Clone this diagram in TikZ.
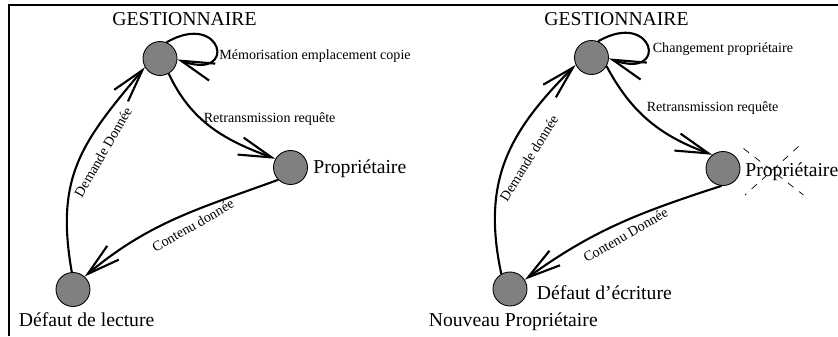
\documentclass[tikz,border=0pt]{standalone}
\usepackage{fontspec}
\setmainfont{Liberation Serif}
\usetikzlibrary{arrows.meta}
\tikzset{
	etat/.style={circle, draw, fill=black!50, line width=0.5pt, minimum size=0.68cm, inner sep=0pt},
	fleche/.style={-{Straight Barb[length=6.6mm,width=3.6mm]}, line width=1.2pt},
	gros/.style={inner sep=0pt, font=\fontsize{11.2}{13}\selectfont},
	petit/.style={inner sep=0pt, font=\fontsize{8}{9.6}\selectfont},
	barre/.style={dashed, dash pattern=on 4pt off 4pt, line width=0.4pt}
}
\begin{document}
\begin{tikzpicture}
			\useasboundingbox (0,0) rectangle (16.76,6.72);
			\draw[line width=1.1pt] (0.18,0) -- (0.18,6.62) -- (16.76,6.62);
			\node[etat] (G1) at (3.20,5.55) {};
			\node[etat] (P1) at (5.81,3.37) {};
			\node[etat] (D1) at (1.46,0.93) {};
			\node[gros, anchor=base] (ges1) at (3.69,6.21) {GESTIONNAIRE};
			\node[gros, anchor=base west] (prop1) at (6.26,3.25) {Propriétaire};
			\node[gros, anchor=base west] (dl) at (0.37,0.19) {Défaut de lecture};
			\node[petit, anchor=base west] (mem1) at (4.38,5.52) {Mémorisation emplacement copie};
			\node[petit, anchor=base west] (rt1) at (4.07,4.27) {Retransmission requête};
			\node[petit, rotate=60] (dd1) at (2.06,3.68) {Demande Donnée};
			\node[petit, rotate=30] (cd1) at (3.86,2.21) {Contenu donnée};
			\draw[fleche] (G1.68) to[out=30, in=-20, distance=1.3cm] (G1.-3);
			\draw[fleche] (G1.-60) to[out=-65, in=160] (P1.150);
			\draw[fleche] (P1.-135) to[out=200, in=40] (D1.48);
			\draw[fleche] (D1.94) to[out=100, in=230, looseness=1.15] (G1.210);
			\node[etat] (G2) at (11.83,5.57) {};
			\node[etat] (P2) at (14.46,3.35) {};
			\node[etat] (D2) at (10.20,0.94) {};
			\node[gros, anchor=base] (ges2) at (12.33,6.21) {GESTIONNAIRE};
			\node[gros, anchor=base west] (prop2) at (14.90,3.19) {Propriétaire};
			\node[gros, anchor=base west] (de) at (10.73,0.73) {Défaut d’écriture};
			\node[gros, anchor=base west] (np) at (8.57,0.19) {Nouveau Propriétaire};
			\node[petit, anchor=base west] (chg2) at (13.05,5.66) {Changement propriétaire};
			\node[petit, anchor=base west] (rt2) at (12.93,4.49) {Retransmission requête};
			\node[petit, rotate=58] (dd2) at (10.58,3.56) {Demande donnée};
			\node[petit, rotate=30] (cd2) at (12.51,2.02) {Contenu Donnée};
			\draw[fleche] (G2.68) to[out=30, in=-20, distance=1.3cm] (G2.-3);
			\draw[fleche] (G2.-30) to[out=-62, in=160] (P2.128);
			\draw[fleche] (P2.-95) to[out=198, in=36] (D2.32);
			\draw[fleche] (D2.120) to[out=102, in=225, looseness=1.1] (G2.205);
			\draw[barre] (14.87,3.75) -- (16.07,2.82);
			\draw[barre] (15.97,3.79) -- (14.90,2.82);
		\end{tikzpicture}
\end{document}
